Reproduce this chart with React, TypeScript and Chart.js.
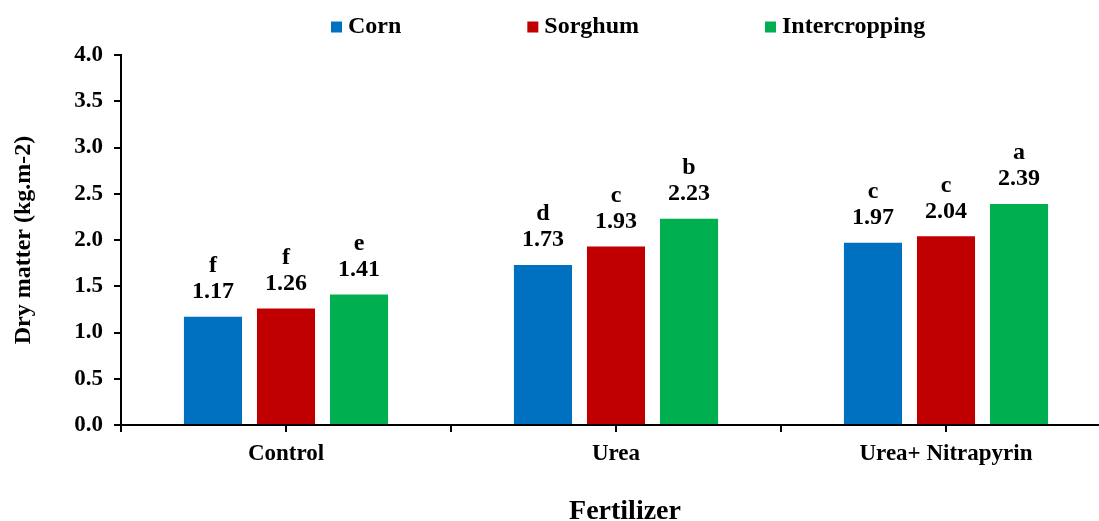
import { useEffect, useRef } from "react";
import { Chart, registerables } from "chart.js";

Chart.register(...registerables);

// Dry matter by fertilizer treatment and cropping system
const categories = ["Control", "Urea", "Urea+ Nitrapyrin"];
const seriesNames = ["Corn", "Sorghum", "Intercropping"];
const seriesColors = ["#0070C0", "#C00000", "#00B050"];

const cornValues = [1.17, 1.73, 1.97];
const sorghumValues = [1.26, 1.93, 2.04];
const intercroppingValues = [1.41, 2.23, 2.39];

// Mean-separation letters shown above each bar
const cornLetters = ["f", "d", "c"];
const sorghumLetters = ["f", "c", "c"];
const intercroppingLetters = ["e", "b", "a"];

const yMin = 0;
const yMax = 4;
const yStep = 0.5;

const xTitle = "Fertilizer";
const yTitle = "Dry matter (kg.m-2)";

const FONT = '"Liberation Serif", "Times New Roman", serif';

const seriesValues = [cornValues, sorghumValues, intercroppingValues];
const seriesLetters = [cornLetters, sorghumLetters, intercroppingLetters];

// Legend row drawn above the plot
const legendPlugin = {
  id: "topLegend",
  afterDraw(chart: any) {
    const { ctx } = chart;
    const y = 27;
    const box = 11;
    const gapText = 6;
    const gapItem = 126;
    let x = 331;
    ctx.save();
    ctx.font = `bold 24px ${FONT}`;
    ctx.textBaseline = "middle";
    ctx.textAlign = "left";
    chart.data.datasets.forEach((ds: any) => {
      ctx.fillStyle = ds.backgroundColor;
      ctx.fillRect(x, y - box / 2, box, box);
      ctx.fillStyle = "#000";
      const tx = x + box + gapText;
      ctx.fillText(ds.label, tx, y);
      x = tx + ctx.measureText(ds.label).width + gapItem;
    });
    ctx.restore();
  },
};

// Value and letter labels above bars, tick marks at category centres, x title
const annotatePlugin = {
  id: "barAnnotations",
  afterDatasetsDraw(chart: any) {
    const { ctx } = chart;
    ctx.save();
    ctx.font = `bold 24px ${FONT}`;
    ctx.fillStyle = "#000";
    ctx.textAlign = "center";
    ctx.textBaseline = "middle";
    chart.data.datasets.forEach((ds: any, di: number) => {
      const meta = chart.getDatasetMeta(di);
      meta.data.forEach((bar: any, i: number) => {
        const v = seriesValues[di][i];
        ctx.fillText(v.toFixed(2), bar.x, bar.y - 25);
        ctx.fillText(seriesLetters[di][i], bar.x, bar.y - 51);
      });
    });
    ctx.restore();
  },
  afterDraw(chart: any) {
    const { ctx } = chart;
    const xs = chart.scales.x;
    const bottom = chart.chartArea.bottom;
    ctx.save();
    ctx.strokeStyle = "#000";
    ctx.lineWidth = 2;
    categories.forEach((_, i) => {
      const px = Math.round(xs.getPixelForValue(i));
      ctx.beginPath();
      ctx.moveTo(px, bottom);
      ctx.lineTo(px, bottom + 7);
      ctx.stroke();
    });
    ctx.font = `bold 28px ${FONT}`;
    ctx.fillStyle = "#000";
    ctx.textAlign = "center";
    ctx.textBaseline = "alphabetic";
    ctx.fillText(xTitle, 625, 519);
    ctx.restore();
  },
};

export default function App() {
  const canvasRef = useRef<HTMLCanvasElement | null>(null);

  useEffect(() => {
    if (!canvasRef.current) return;
    const chart = new Chart(canvasRef.current, {
      type: "bar",
      data: {
        labels: categories,
        datasets: seriesNames.map((name, i) => ({
          label: name,
          data: seriesValues[i],
          backgroundColor: seriesColors[i],
          borderWidth: 0,
          categoryPercentage: 0.664,
          barPercentage: 0.795,
        })),
      },
      options: {
        animation: false,
        responsive: true,
        maintainAspectRatio: false,
        layout: { padding: { top: 55, right: 4, bottom: 0, left: 0 } },
        plugins: {
          legend: { display: false },
          tooltip: { enabled: false },
        },
        scales: {
          x: {
            afterFit(scale: any) {
              scale.height = 96;
            },
            grid: {
              drawOnChartArea: false,
              drawTicks: true,
              tickLength: 7,
              color: "#000",
              lineWidth: 2,
            },
            border: { display: true, color: "#000", width: 2 },
            ticks: {
              color: "#000",
              font: { family: FONT, size: 23, weight: "bold" },
              padding: 8,
              maxRotation: 0,
            },
          },
          y: {
            min: yMin,
            max: yMax,
            afterFit(scale: any) {
              scale.width = 121;
            },
            grid: {
              drawOnChartArea: false,
              drawTicks: true,
              tickLength: 7,
              color: "#000",
              lineWidth: 2,
            },
            border: { display: true, color: "#000", width: 2 },
            ticks: {
              stepSize: yStep,
              color: "#000",
              font: { family: FONT, size: 23, weight: "bold" },
              padding: 11,
              callback: (v: any) => Number(v).toFixed(1),
            },
            title: {
              display: true,
              text: yTitle,
              color: "#000",
              font: { family: FONT, size: 24, weight: "bold" },
              padding: { top: 9, bottom: 0 },
            },
          },
        },
      },
      plugins: [legendPlugin, annotatePlugin],
    });
    return () => chart.destroy();
  }, []);

  return (
    <div
      style={{
        position: "fixed",
        left: 0,
        top: 0,
        width: 1099,
        height: 521,
        overflow: "hidden",
        background: "#fff",
      }}
    >
      <div style={{ position: "relative", width: 1115, height: 521 }}>
        <canvas ref={canvasRef} />
      </div>
    </div>
  );
}
